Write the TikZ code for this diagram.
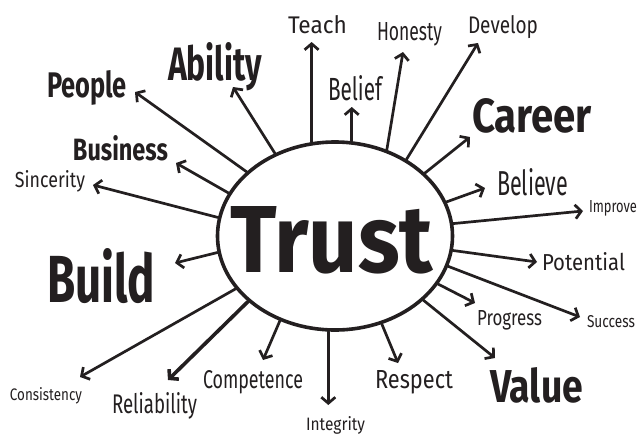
\documentclass[tikz,border=0pt]{standalone}
\usepackage{fontspec}
\usepackage{graphicx}
\setmainfont{Fira Sans}
\usetikzlibrary{arrows.meta,shapes.geometric}
\definecolor{ink}{RGB}{35,31,32}
\newcommand{\fitword}[3]{\resizebox{#1pt}{#2pt}{#3}}
\tikzset{
  word/.style={inner sep=0pt, outer sep=0pt, anchor=base west, text=ink, font=\fontsize{20}{20}\selectfont},
  midword/.style={word, font=\fontsize{30}{30}\selectfont\bfseries},
  bigword/.style={word, font=\fontsize{40}{40}\selectfont\bfseries},
  ray/.style={draw=ink, line width=2.7pt, line cap=round, -{Straight Barb[length=6pt,width=14pt]}},
  blob/.style={ellipse, draw=ink, line width=3.6pt, minimum width=235pt, minimum height=188pt, inner sep=0pt}
}
\begin{document}
\begin{tikzpicture}[x=1pt,y=-1pt]
\useasboundingbox (0,0) rectangle (638,434);
\fill[white] (0,0) rectangle (638,434);
% centre ellipse
\node[blob] (trust) at (335,236) {};
% arrow tips
\coordinate (tTeach) at (311,42);
\coordinate (tAbility) at (233,87);
\coordinate (tPeople) at (135,92);
\coordinate (tBusiness) at (176,163);
\coordinate (tSincerity) at (93,185);
\coordinate (tBuild) at (175,263);
\coordinate (tConsistency) at (80,377);
\coordinate (tReliability) at (168,380);
\coordinate (tCompetence) at (263,360);
\coordinate (tIntegrity) at (328,405);
\coordinate (tRespect) at (398,363);
\coordinate (tValue) at (495,358);
\coordinate (tProgress) at (475,303);
\coordinate (tSuccess) at (580,317);
\coordinate (tPotential) at (537,262);
\coordinate (tImprove) at (583,211);
\coordinate (tBelieve) at (485,188);
\coordinate (tCareer) at (470,137);
\coordinate (tDevelop) at (478,43);
\coordinate (tHonesty) at (403,52);
\coordinate (tBelief) at (353,107);
% arrows
\draw[ray] (trust.104) -- (trust.104 |- tTeach);
\draw[ray] (trust.126) -- (tAbility);
\draw[ray] (trust.144) -- (tPeople);
\draw[ray] (trust.158) -- (tBusiness);
\draw[ray] (trust.171) -- (tSincerity);
\draw[ray] (trust.188) -- (tBuild);
\draw[ray] (trust.208) -- (tConsistency);
\draw[ray, line width=3.6pt] (trust.217) -- (tReliability);
\draw[ray] (trust.237) -- (tCompetence);
\draw[ray] (trust.266) -- (trust.266 |- tIntegrity);
\draw[ray] (trust.298) -- (tRespect);
\draw[ray] (trust.324) -- (tValue);
\draw[ray] (trust.335) -- (tProgress);
\draw[ray] (trust.345) -- (tSuccess);
\draw[ray] (trust.353) -- (tPotential);
\draw[ray] (trust.6) -- (tImprove);
\draw[ray] (trust.17) -- (tBelieve);
\draw[ray] (trust.35) -- (tCareer);
\draw[ray] (trust.47) -- (tDevelop);
\draw[ray] (trust.59) -- (tHonesty);
\draw[ray] (trust.80) -- (trust.80 |- tBelief);
% centre word
\node[bigword] (lTrust) at (230,272) {\fitword{203}{66}{Trust}};
% labels
\node[word] (lTeach) at (288,33) {\fitword{59}{18}{Teach}};
\node[word] (lHonesty) at (377,40) {\fitword{65}{18}{Honesty}};
\node[word] (lDevelop) at (468,33) {\fitword{70}{18}{Develop}};
\node[bigword] (lAbility) at (168,80) {\fitword{94}{38}{Ability}};
\node[midword] (lPeople) at (47,97) {\fitword{80}{27}{People}};
\node[word] (lBelief) at (328,100) {\fitword{54}{25}{Belief}};
\node[midword] (lCareer) at (472,132) {\fitword{120}{34}{Career}};
\node[midword] (lBusiness) at (73,160) {\fitword{95}{25}{Business}};
\node[word] (lSincerity) at (15,187) {\fitword{70}{17}{Sincerity}};
\node[word] (lBelieve) at (497,195) {\fitword{71}{27}{Believe}};
\node[word] (lImprove) at (589,212) {\fitword{48}{12}{Improve}};
\node[bigword] (lBuild) at (47,302) {\fitword{108}{54}{Build}};
\node[word] (lPotential) at (542,270) {\fitword{83}{18}{Potential}};
\node[word] (lProgress) at (477,325) {\fitword{65}{15}{Progress}};
\node[word] (lSuccess) at (587,327) {\fitword{48}{12}{Success}};
\node[word] (lConsistency) at (10,400) {\fitword{72}{13}{Consistency}};
\node[word] (lReliability) at (112,413) {\fitword{85}{21}{Reliability}};
\node[word] (lCompetence) at (203,388) {\fitword{100}{18}{Competence}};
\node[word] (lIntegrity) at (306,430) {\fitword{59}{14}{Integrity}};
\node[word] (lRespect) at (375,388) {\fitword{78}{18}{Respect}};
\node[bigword] (lValue) at (490,402) {\fitword{93}{35}{Value}};
\end{tikzpicture}
\end{document}
